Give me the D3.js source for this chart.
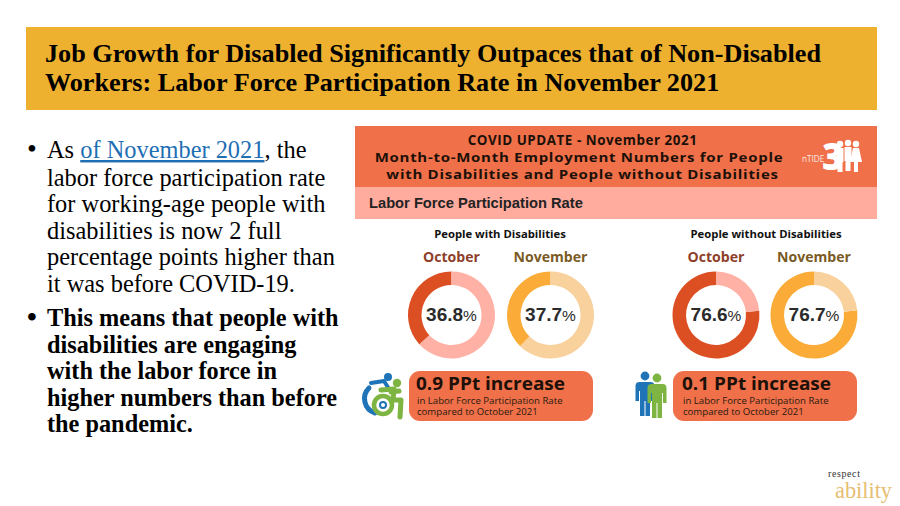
<!DOCTYPE html>
<html>
<head>
<meta charset="utf-8">
<script src="https://cdn.jsdelivr.net/npm/d3@7"></script>
<style>
  html, body { margin: 0; padding: 0; background: #fff; }
  svg { display: block; }
  .serif { font-family: "Liberation Serif", serif; }
  .sans { font-family: "Open Sans", sans-serif; }
  .arial { font-family: "Liberation Sans", sans-serif; }
</style>
</head>
<body>
<svg id="chart" width="900" height="506"></svg>
<script>
const titleLines = [
  "Job Growth for Disabled Significantly Outpaces that of Non-Disabled",
  "Workers: Labor Force Participation Rate in November 2021"
];
const bulletOneRest = [
  "labor force participation rate",
  "for working-age people with",
  "disabilities is now 2 full",
  "percentage points higher than",
  "it was before COVID-19."
];
const bulletTwo = [
  "This means that people with",
  "disabilities are engaging",
  "with the labor force in",
  "higher numbers than before",
  "the pandemic."
];
const headerTop = "COVID UPDATE - November 2021";
const headerLines = [
  "Month-to-Month Employment Numbers for People",
  "with Disabilities and People without Disabilities"
];
const subHeader = "Labor Force Participation Rate";
const months = ["October", "November"];
const withDisabilities = [36.8, 37.7];
const withoutDisabilities = [76.6, 76.7];
const increases = ["0.9 PPt increase", "0.1 PPt increase"];
const increaseNote = ["in Labor Force Participation Rate", "compared to October 2021"];

const svg = d3.select("#chart");

// title band
svg.append("rect").attr("x", 26).attr("y", 27).attr("width", 851).attr("height", 83).attr("fill", "#EDB02F");
svg.append("g").selectAll("text").data(titleLines).join("text")
  .attr("class", "serif")
  .attr("x", 45)
  .attr("y", (d, i) => 62 + i * 29)
  .attr("font-size", 26.2)
  .attr("font-weight", 700)
  .attr("fill", "#000")
  .text(d => d);

// left bullets
const bullet1 = svg.append("g").attr("class", "serif").attr("font-size", 24.4);
bullet1.append("text").attr("x", 27).attr("y", 158).attr("font-size", 28).text("•");
const first = bullet1.append("text").attr("x", 47).attr("y", 158);
first.append("tspan").text("As ");
first.append("tspan").attr("fill", "#1F6FB5").attr("text-decoration", "underline").text("of November 2021");
first.append("tspan").text(", the");
bullet1.selectAll("text.l").data(bulletOneRest).join("text").attr("class", "l")
  .attr("x", 47).attr("y", (d, i) => 185.5 + i * 26.5).text(d => d);

const bullet2 = svg.append("g").attr("class", "serif").attr("font-size", 24.3).attr("font-weight", 700);
bullet2.append("text").attr("x", 27).attr("y", 326).attr("font-size", 28).text("•");
bullet2.selectAll("text.l").data(bulletTwo).join("text").attr("class", "l")
  .attr("x", 47).attr("y", (d, i) => 326 + i * 26.5).text(d => d);

// infographic header
svg.append("rect").attr("x", 355).attr("y", 126).attr("width", 522).attr("height", 61).attr("fill", "#EF7049");
svg.append("rect").attr("x", 355).attr("y", 187).attr("width", 522).attr("height", 32).attr("fill", "#FFAB9E");
svg.append("text").attr("class", "sans").attr("x", 582.5).attr("y", 144.5)
  .attr("text-anchor", "middle").attr("font-size", 13.4).attr("font-weight", 700)
  .attr("letter-spacing", 0.55).attr("fill", "#1c1008").text(headerTop);
// these two lines are stretched sideways in the original
svg.append("g").selectAll("text").data(headerLines).join("text")
  .attr("class", "sans")
  .attr("transform", (d, i) => `translate(${i === 0 ? 579 : 582.5},${161.5 + i * 17}) scale(1.2,1)`)
  .attr("text-anchor", "middle")
  .attr("font-size", 12.5)
  .attr("font-weight", 700)
  .attr("letter-spacing", 0.6)
  .attr("fill", "#1c1008")
  .text(d => d);
svg.append("text").attr("class", "arial").attr("x", 369).attr("y", 208)
  .attr("font-size", 14.7).attr("font-weight", 700).attr("fill", "#222").text(subHeader);

// nTIDE logo
const logo = svg.append("g").attr("fill", "#fff");
logo.append("text").attr("class", "sans").attr("x", 802).attr("y", 162).attr("font-size", 8.2).attr("opacity", 0.85).text("nTIDE");
logo.append("text").attr("class", "sans").attr("x", 822).attr("y", 170).attr("font-size", 37).attr("font-weight", 800).text("3");
[[840, 144], [848, 143], [856, 144]].forEach(([x, y], i) => {
  logo.append("circle").attr("cx", x).attr("cy", y).attr("r", 3.2);
  logo.append("path").attr("d", i === 2
    ? `M${x - 3},${y + 4}h6l3,14h-4v10h-4v-10h-4z`
    : `M${x - 3.5},${y + 4}h7v14h-1v10h-5v-10h-1z`);
});

// groups and donuts, drawn mirrored so the share runs anticlockwise from 12 o'clock
const pie = d3.pie().sort(null).value(d => d);
const arc = d3.arc().innerRadius(30).outerRadius(43.5);
const palette = [
  { main: "#DC4F22", rest: "#FFB1A6", label: "#8E3F2B" },
  { main: "#FBAB37", rest: "#F8D19C", label: "#7B5B25" }
];
const groups = [
  { name: "People with Disabilities", values: withDisabilities, cx: 500, x: d3.scalePoint().domain(months).range([451.5, 550.5]) },
  { name: "People without Disabilities", values: withoutDisabilities, cx: 766, x: d3.scalePoint().domain(months).range([716, 814]) }
];

groups.forEach(g => {
  svg.append("text").attr("class", "sans").attr("x", g.cx).attr("y", 238)
    .attr("text-anchor", "middle").attr("font-size", 11.3).attr("font-weight", 700)
    .attr("fill", "#111").text(g.name);

  months.forEach((m, i) => {
    const cx = g.x(m);
    svg.append("text").attr("class", "sans").attr("x", cx).attr("y", 262)
      .attr("text-anchor", "middle").attr("font-size", 14.1).attr("font-weight", 700)
      .attr("fill", palette[i].label).text(m);

    const donut = svg.append("g").attr("transform", `translate(${cx},315) scale(-1,1)`);
    donut.selectAll("path").data(pie([g.values[i], 100 - g.values[i]])).join("path")
      .attr("d", arc)
      .attr("fill", (d, j) => j === 0 ? palette[i].main : palette[i].rest);

    const t = svg.append("text").attr("class", "arial").attr("x", cx).attr("y", 321)
      .attr("text-anchor", "middle").attr("fill", "#2b2b2b");
    t.append("tspan").attr("font-size", 19).attr("font-weight", 700).text(g.values[i]);
    t.append("tspan").attr("font-size", 15.5).text("%");
  });
});

// increase call-outs
const callouts = [
  { x: 409, w: 184, tx: 416 },
  { x: 673, w: 184, tx: 682 }
];
callouts.forEach((c, i) => {
  svg.append("rect").attr("x", c.x).attr("y", 371).attr("width", c.w).attr("height", 50)
    .attr("rx", 11).attr("fill", "#EF7049");
  svg.append("text").attr("class", "sans")
    .attr("transform", `translate(${c.tx},389.5) scale(1.085,1)`)
    .attr("font-size", 17.5).attr("font-weight", 700).attr("fill", "#1c1008").text(increases[i]);
  svg.append("g").selectAll("text").data(increaseNote).join("text")
    .attr("class", "sans")
    .attr("transform", (d, j) => `translate(${c.tx + 1},${403.5 + j * 11}) scale(1.187,1)`)
    .attr("font-size", 8.1).attr("fill", "#2a1a10").text(d => d);
});

// accessibility icon
const icon = svg.append("g").attr("fill", "none").attr("stroke-linecap", "round").attr("stroke-linejoin", "round");
icon.append("circle").attr("cx", 388).attr("cy", 377).attr("r", 4).attr("fill", "#1F74B8");
icon.append("path").attr("d", "M371,383l13,-2l5,8").attr("stroke", "#1F74B8").attr("stroke-width", 4);
icon.append("path").attr("d", "M369,388a15,15 0 0,0 6,25").attr("stroke", "#1F74B8").attr("stroke-width", 5);
icon.append("circle").attr("cx", 397).attr("cy", 383).attr("r", 4.2).attr("fill", "#7DB442");
icon.append("path").attr("d", "M381,390l13,-1l-1,11h8l-1,17M391,392l8,-1").attr("stroke", "#7DB442").attr("stroke-width", 5);
icon.append("circle").attr("cx", 383).attr("cy", 405).attr("r", 9).attr("stroke", "#7DB442").attr("stroke-width", 4.5);
icon.append("circle").attr("cx", 383).attr("cy", 405).attr("r", 3).attr("stroke", "#1F74B8").attr("stroke-width", 2);

// two people icon
const person = (x, y, col) => {
  const p = svg.append("g").attr("fill", col);
  p.append("circle").attr("cx", x).attr("cy", y).attr("r", 4.4);
  p.append("path").attr("d", `M${x - 9.5},${y + 10}q0,-4 4,-4h11q4,0 4,4v15h-3.5v-10h-1v25h-4.5v-15h-1v15h-4.5v-25h-1v10h-3.5z`);
};
person(645, 376, "#1F74B8");
person(657, 378, "#7DB442");

// respect ability wordmark
svg.append("text").attr("class", "serif").attr("x", 828).attr("y", 476.5).attr("font-size", 10).attr("letter-spacing", 0.6).attr("fill", "#333").text("respect");
svg.append("text").attr("class", "serif").attr("x", 835).attr("y", 498).attr("font-size", 22.3).attr("fill", "#E6BE72").text("ability");
</script>
</body>
</html>
